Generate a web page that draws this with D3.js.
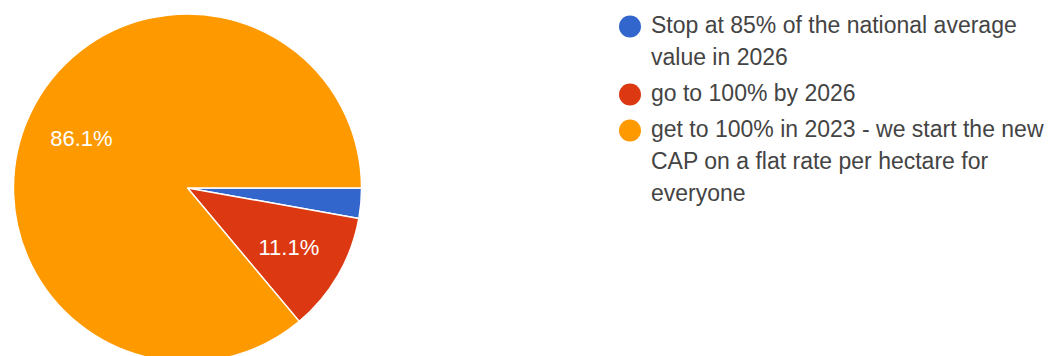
<!DOCTYPE html>
<html>
<head>
<meta charset="utf-8">
<script src="https://cdn.jsdelivr.net/npm/d3@7"></script>
<style>
  html, body { margin: 0; padding: 0; background: #fff; }
  svg { display: block; font-family: Arial, "Liberation Sans", sans-serif; }
</style>
</head>
<body>
<svg id="chart" width="1053" height="356"></svg>
<script>
// Survey answers and their shares (%)
const categories = [
  "Stop at 85% of the national average value in 2026",
  "go to 100% by 2026",
  "get to 100% in 2023 - we start the new CAP on a flat rate per hectare for everyone"
];
const shares = [2.8, 11.1, 86.1];
const sliceLabels = ["", "11.1%", "86.1%"];
const colors = ["#3366cc", "#dc3912", "#ff9900"];

const svg = d3.select("#chart");
const cx = 187.5, cy = 188, radius = 174;

const rows = categories.map((c, i) => ({ name: c, value: shares[i], label: sliceLabels[i], color: colors[i] }));

// Slices run clockwise starting from 3 o'clock
const pie = d3.pie()
  .sort(null)
  .value(d => d.value)
  .startAngle(Math.PI / 2)
  .endAngle(Math.PI / 2 + 2 * Math.PI);

const arc = d3.arc().innerRadius(0).outerRadius(radius);
const labelArc = d3.arc().innerRadius(radius * 0.673).outerRadius(radius * 0.673);

const g = svg.append("g").attr("transform", `translate(${cx},${cy})`);
const arcs = pie(rows);

g.selectAll("path.slice")
  .data(arcs)
  .join("path")
  .attr("class", "slice")
  .attr("d", arc)
  .attr("fill", d => d.data.color)
  .attr("stroke", "#fff")
  .attr("stroke-width", 1.4)
  .attr("stroke-linejoin", "round");

g.selectAll("text.pct")
  .data(arcs.filter(d => d.data.label))
  .join("text")
  .attr("class", "pct")
  .attr("transform", d => `translate(${labelArc.centroid(d)})`)
  .attr("text-anchor", "middle")
  .attr("dy", "0.36em")
  .attr("fill", "#fff")
  .attr("font-size", 22)
  .text(d => d.data.label);

// Legend with wrapped entries
const legendX = 630, textX = 651, firstBaseline = 33;
const lineHeight = 32, itemGap = 4, maxWidth = 420;
const legend = svg.append("g");
let baseline = firstBaseline;

rows.forEach(r => {
  const item = legend.append("g");
  item.append("circle")
    .attr("cx", legendX)
    .attr("cy", baseline - 6.5)
    .attr("r", 11)
    .attr("fill", r.color);

  const text = item.append("text")
    .attr("x", textX)
    .attr("y", baseline)
    .attr("fill", "#444")
    .attr("font-size", 23);

  const words = r.name.split(" ");
  let line = [];
  let tspan = text.append("tspan").attr("x", textX).attr("y", baseline);
  let y = baseline;
  words.forEach(w => {
    line.push(w);
    tspan.text(line.join(" "));
    if (tspan.node().getComputedTextLength() > maxWidth && line.length > 1) {
      line.pop();
      tspan.text(line.join(" "));
      line = [w];
      y += lineHeight;
      tspan = text.append("tspan").attr("x", textX).attr("y", y).text(w);
    }
  });
  baseline = y + lineHeight + itemGap;
});
</script>
</body>
</html>
